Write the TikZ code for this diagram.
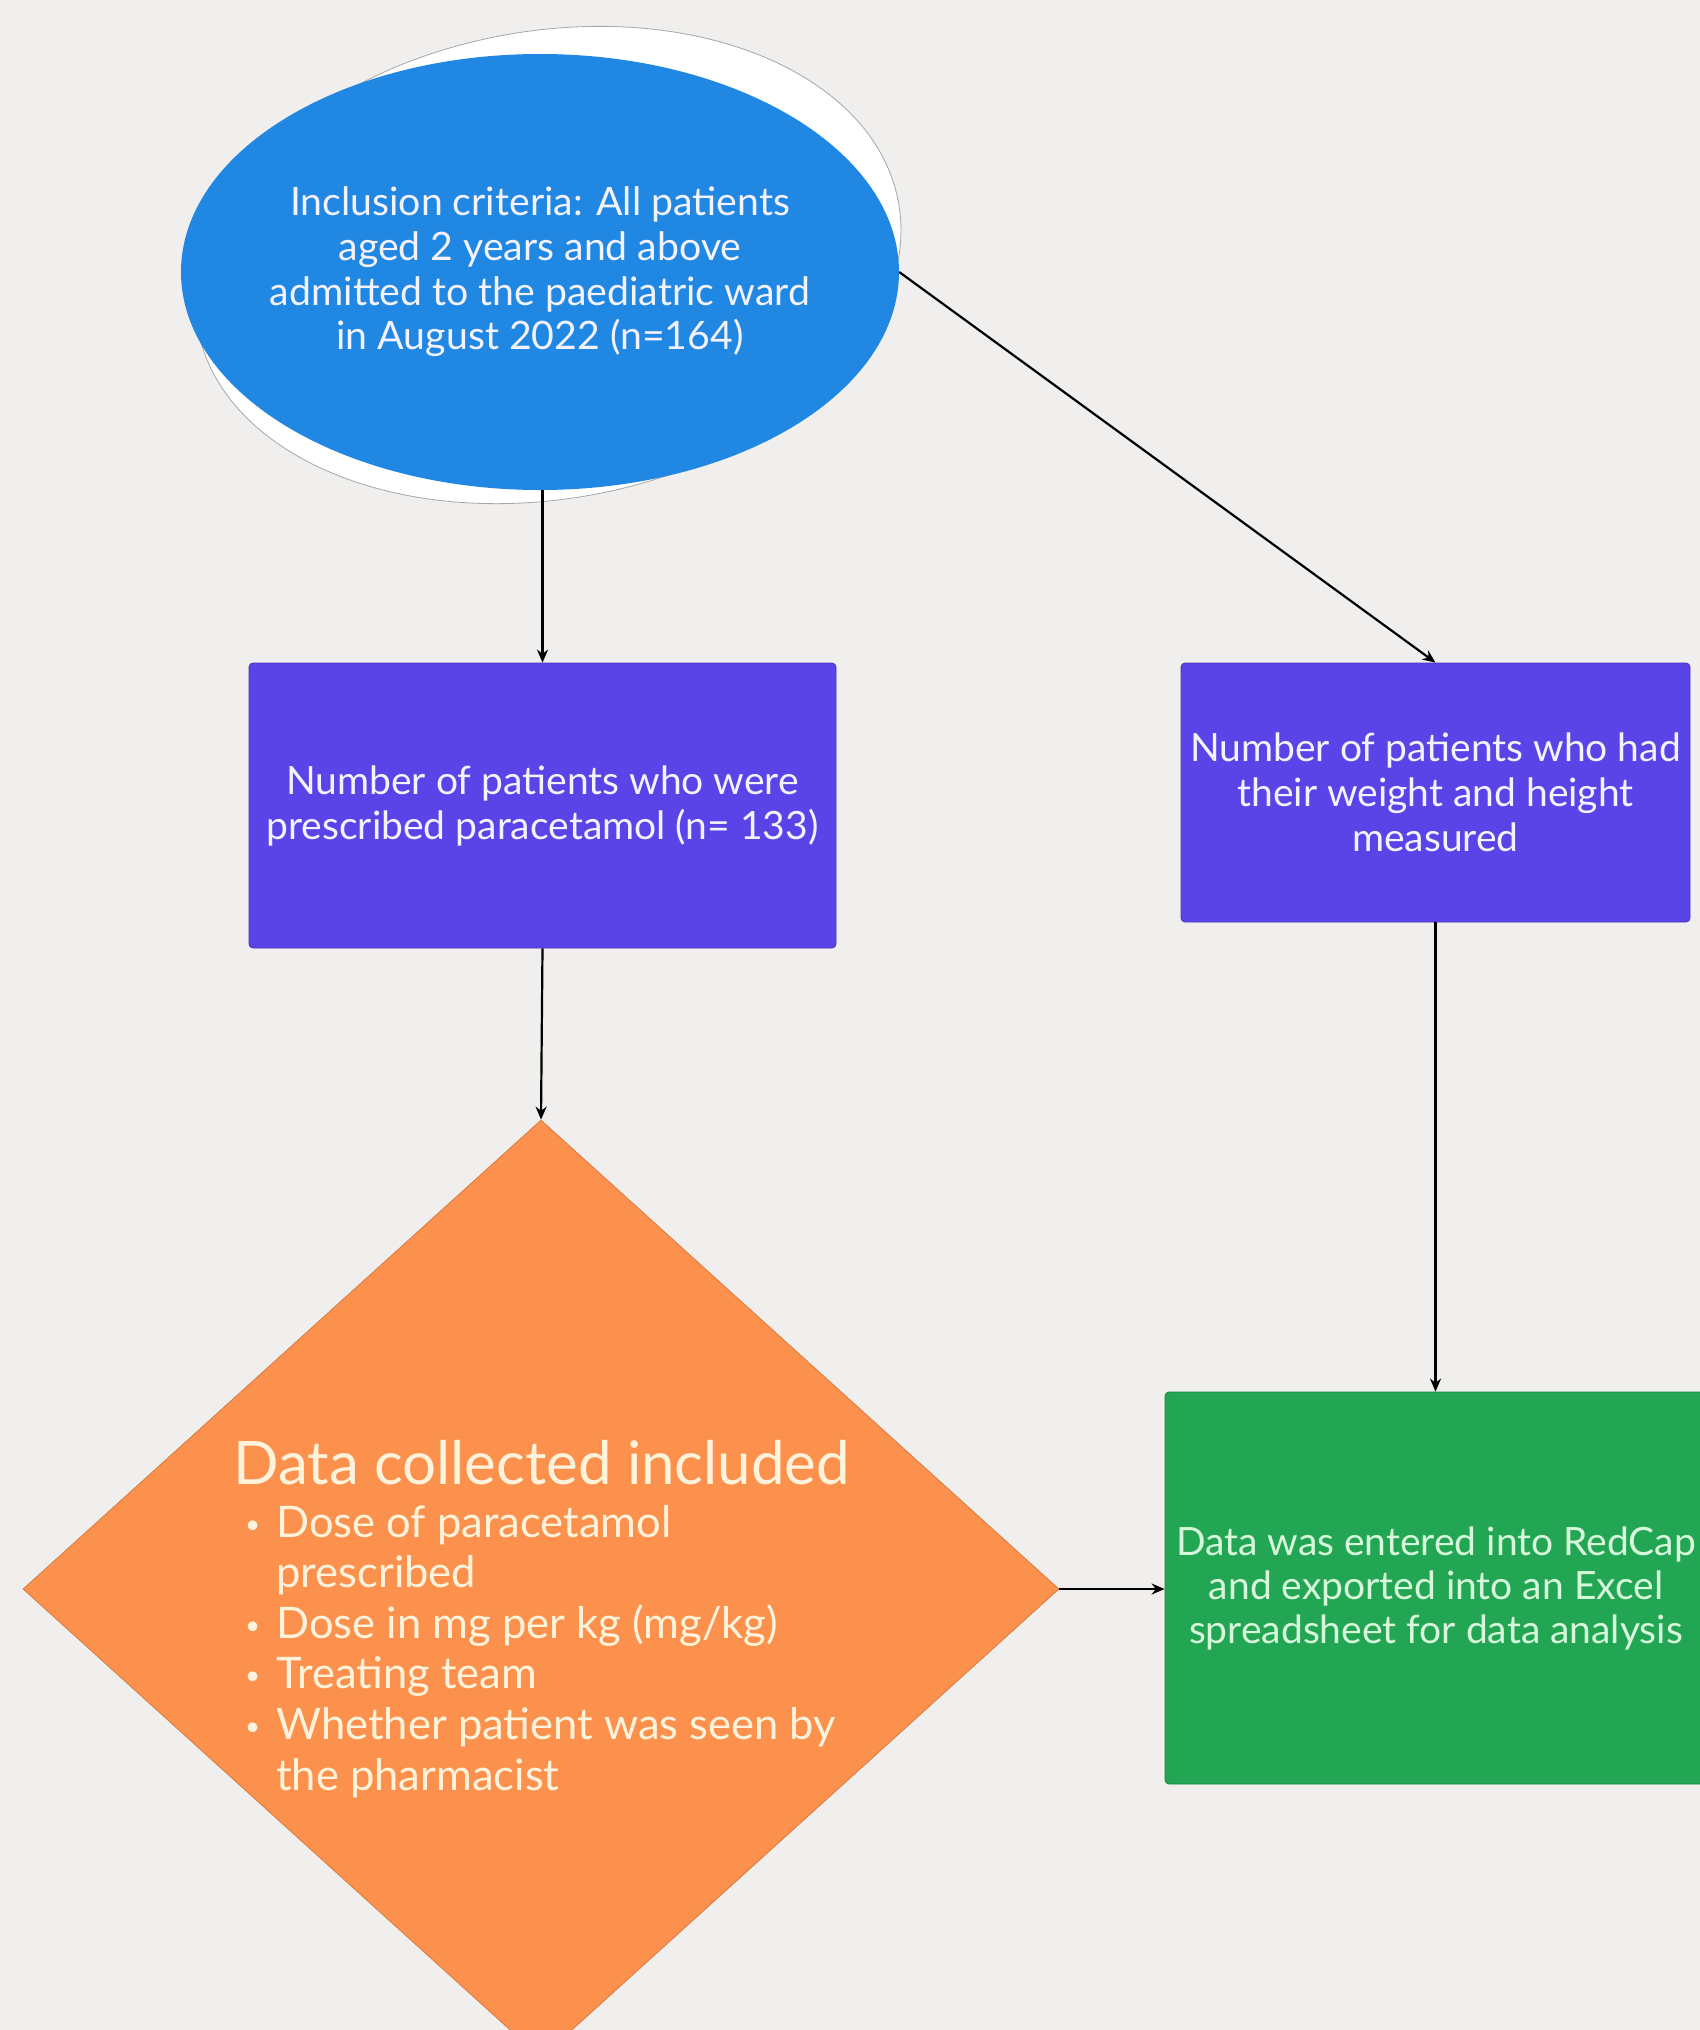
\documentclass[tikz,border=0pt]{standalone}
\usepackage{fontspec}
\setmainfont{Lato}
\usetikzlibrary{shapes.geometric,arrows.meta}
\definecolor{bg}{HTML}{F0EFED}
\definecolor{ellblue}{HTML}{2087E2}
\definecolor{boxpurple}{HTML}{5A44E8}
\definecolor{diaorange}{HTML}{FC914D}
\definecolor{boxgreen}{HTML}{22A653}
\definecolor{paletext}{HTML}{F4F2FF}
\definecolor{creamtext}{HTML}{FFF3DC}
\definecolor{greentext}{HTML}{D8F8DC}
\begin{document}
\begin{tikzpicture}[x=1pt,y=-1pt,
  conn/.style={draw=black, line width=2.2pt, -{Stealth[length=13pt,width=11pt]}},
  pbox/.style={rectangle, rounded corners=4pt, fill=boxpurple, draw=boxpurple!80!black, line width=0.8pt, inner sep=0pt, text=paletext, align=center, font=\fontsize{39}{45}\selectfont},
]
\fill[bg] (0,0) rectangle (1700,2030);
\useasboundingbox (0,0) rectangle (1700,2030);

% white halo behind the ellipse
\fill[white, draw=black!35, line width=0.8pt, rotate around={10:(548,265)}] (548,265) ellipse [x radius=356pt, y radius=234pt];
\node[ellipse, fill=ellblue, inner sep=0pt, minimum width=718pt, minimum height=436pt] (ell) at (540,272) {};
\node[inner sep=0pt, text=paletext, align=center, font=\fontsize{39.2}{44.7}\selectfont] (elltext) at (ell.center)
  {Inclusion criteria: All patients\\aged 2 years and above\\admitted to the paediatric ward\\in August 2022 (n=164)};

\node[pbox, minimum width=587pt, minimum height=285pt] (b1) at (542.5,805.5)
  {Number of patients who were\\prescribed paracetamol (n= 133)};

\node[pbox, minimum width=509pt, minimum height=259pt] (b2) at (1435.5,792.5)
  {Number of patients who had\\their weight and height\\measured};

\node[diamond, fill=diaorange, draw=diaorange!85!black, line width=0.8pt, inner sep=0pt,
      minimum width=1036pt, minimum height=938pt] (dia) at (541,1589) {};
\node[anchor=north west, inner sep=0pt, text=creamtext, align=left] (dtext) at (233,1440)
  {\fontsize{43.5}{50.6}\selectfont
   \begin{tabular}{@{\hspace{12pt}}l@{\hspace{16pt}}l@{}}
   \multicolumn{2}{@{}l@{}}{\fontsize{60}{60}\selectfont Data collected included}\\[2pt]
   {\fontsize{26}{26}\selectfont\raisebox{4pt}{\textbullet}} & Dose of paracetamol\\
               & prescribed\\
   {\fontsize{26}{26}\selectfont\raisebox{4pt}{\textbullet}} & Dose in mg per kg (mg/kg)\\
   {\fontsize{26}{26}\selectfont\raisebox{4pt}{\textbullet}} & Treating team\\
   {\fontsize{26}{26}\selectfont\raisebox{4pt}{\textbullet}} & Whether patient was seen by\\
               & the pharmacist
   \end{tabular}};

\node[rectangle, rounded corners=4pt, fill=boxgreen, draw=boxgreen!80!black, line width=0.8pt, inner sep=0pt,
      minimum width=560pt, minimum height=392pt] (g) at (1445,1588) {};
\node[inner sep=0pt, text=greentext, align=center, font=\fontsize{39}{44}\selectfont] (gtext) at (1436,1588)
  {Data was entered into RedCap\\and exported into an Excel\\spreadsheet for data analysis};

\draw[conn] (ell.south -| b1.north) -- (b1.north);
\draw[conn] (ell.east) -- (b2.north);
\draw[conn] (b1.south) -- (dia.north);
\draw[conn] (b2.south) -- (b2.south |- g.north);
\draw[conn] (dia.east) -- (dia.east -| g.west);
\end{tikzpicture}
\end{document}
